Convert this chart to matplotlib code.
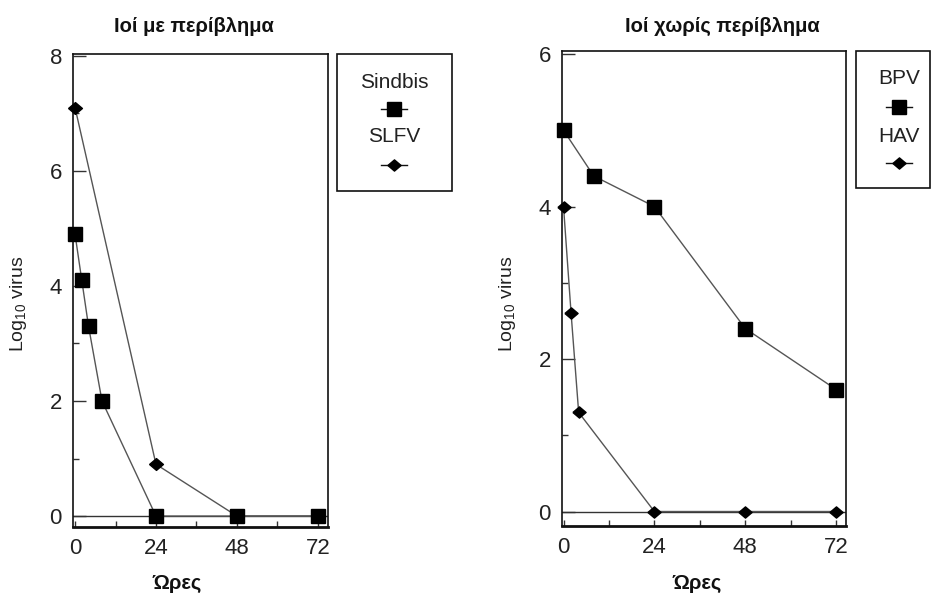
import matplotlib
matplotlib.use("Agg")
import matplotlib.pyplot as plt
from matplotlib.lines import Line2D
from matplotlib.patches import Rectangle
from matplotlib.ticker import MultipleLocator

# ---- data ----
sindbis_hours = [0, 2, 4, 8, 24, 48, 72]
sindbis_log = [4.9, 4.1, 3.3, 2.0, 0.0, 0.0, 0.0]
slfv_hours = [0, 24, 48, 72]
slfv_log = [7.1, 0.9, 0.0, 0.0]

bpv_hours = [0, 8, 24, 48, 72]
bpv_log = [5.0, 4.4, 4.0, 2.4, 1.6]
hav_hours = [0, 2, 4, 24, 48, 72]
hav_log = [4.0, 2.6, 1.3, 0.0, 0.0, 0.0]

left_title = "Ιοί με περίβλημα"
right_title = "Ιοί χωρίς περίβλημα"
xlabel = "Ώρες"
ylabel = "Log$_{\\mathregular{10}}$ virus"
left_names = ["Sindbis", "SLFV"]
right_names = ["BPV", "HAV"]
xticks = [0, 24, 48, 72]

W, H = 931, 596
fig = plt.figure(figsize=(W / 100, H / 100), dpi=100)
plt.rcParams['font.family'] = ['Liberation Sans', 'DejaVu Sans']

diamond = [(-1, 0), (0, 0.85), (1, 0), (0, -0.85), (-1, 0)]
line_col = '#555555'
txt_col = '#222222'


def fx(px):
    return px / W


def fy(py):
    return 1 - py / H


def make_ax(l, r, t, b, xlim, ylim, ymax_tick):
    ax = fig.add_axes([fx(l), fy(b), fx(r) - fx(l), fy(t) - fy(b)])
    ax.set_xlim(*xlim)
    ax.set_ylim(*ylim)
    ax.set_xticks(xticks)
    ax.xaxis.set_minor_locator(MultipleLocator(12))
    ax.set_yticks(list(range(0, ymax_tick + 1, 2)))
    ax.yaxis.set_minor_locator(MultipleLocator(1))
    ax.tick_params(which='both', direction='in', width=1, colors='#333333',
                   labelcolor=txt_col, labelsize=16, pad=8)
    ax.tick_params(axis='y', which='major', length=9)
    ax.tick_params(axis='y', which='minor', length=4)
    ax.tick_params(axis='x', which='both', length=4)
    for s in ax.spines.values():
        s.set_linewidth(1.2)
        s.set_color('#111111')
    ax.spines['bottom'].set_linewidth(2)
    ax.axhline(0, color='#333333', lw=1, zorder=1)
    return ax


axL = make_ax(73, 328, 54, 527, (-0.6, 75.0), (-0.19, 8.03), 8)
axL.plot(slfv_hours, slfv_log, color=line_col, lw=1, marker=diamond, ms=10,
         mfc='black', mec='black', zorder=3, clip_on=False)
axL.plot(sindbis_hours, sindbis_log, color=line_col, lw=1, marker='s', ms=10.3,
         mfc='black', mec='black', zorder=4, clip_on=False)

axR = make_ax(562, 846, 51, 526, (-0.4, 74.6), (-0.19, 6.04), 6)
axR.plot(bpv_hours, bpv_log, color=line_col, lw=1, marker='s', ms=10.3,
         mfc='black', mec='black', zorder=4, clip_on=False)
axR.plot(hav_hours, hav_log, color=line_col, lw=1, marker=diamond, ms=9.5,
         mfc='black', mec='black', zorder=3, clip_on=False)

# titles
fig.text(fx(194), fy(32), left_title, ha='center', va='baseline',
         fontsize=14.5, fontweight='bold', color='#111111')
fig.text(fx(722), fy(32), right_title, ha='center', va='baseline',
         fontsize=14.5, fontweight='bold', color='#111111')

# x labels
for cx in (177, 697):
    fig.text(fx(cx), fy(593), xlabel, ha='center', va='bottom',
             fontsize=14.5, fontweight='bold', color='#111111')

# y labels
for cx in (19, 507):
    fig.text(fx(cx), fy(304), ylabel, ha='center', va='center', rotation=90,
             fontsize=14, color=txt_col)


# legends
def legend_box(l, r, t, b, cx, entries):
    fig.add_artist(Rectangle((fx(l), fy(b)), fx(r) - fx(l), fy(t) - fy(b),
                             transform=fig.transFigure, fill=False,
                             edgecolor='#111111', lw=1.2))
    for name, ty, my, mk, ms in entries:
        fig.text(fx(cx), fy(ty), name, ha='center', va='center',
                 fontsize=15, color=txt_col)
        fig.add_artist(Line2D([fx(cx - 13), fx(cx + 13)], [fy(my), fy(my)],
                              transform=fig.transFigure, color='#111111', lw=1))
        fig.add_artist(Line2D([fx(cx)], [fy(my)], transform=fig.transFigure,
                              marker=mk, ms=ms, mfc='black', mec='black', lw=0))


legend_box(337, 452, 54, 191, 394,
           [(left_names[0], 82, 109, 's', 9.5), (left_names[1], 137, 165, diamond, 9.5)])
legend_box(855.5, 930, 51, 188, 899,
           [(right_names[0], 78, 107, 's', 9.5), (right_names[1], 137, 163, diamond, 9.5)])

fig.savefig("out.png", dpi=100)
